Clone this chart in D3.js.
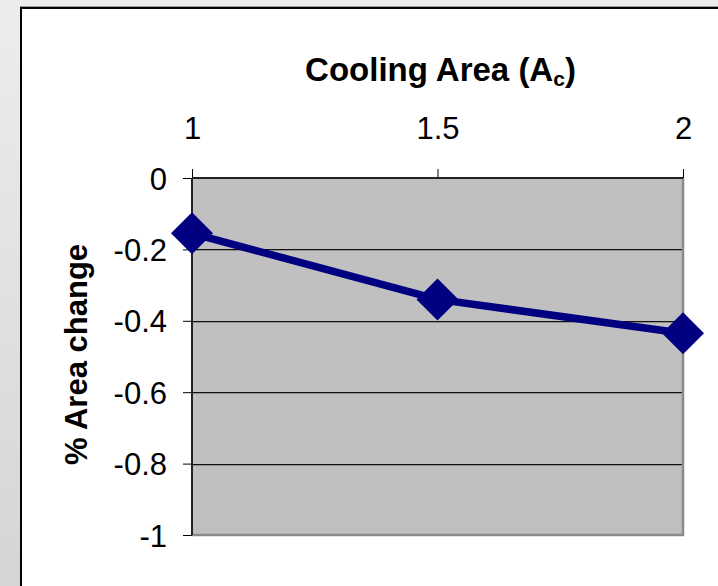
<!DOCTYPE html>
<html>
<head>
<meta charset="utf-8">
<title>Cooling Area</title>
<script src="https://d3js.org/d3.v7.min.js"></script>
<style>
body { margin: 0; background: #e4e4e4; }
text { font-family: "Liberation Sans", Arial, sans-serif; fill: #000; }
</style>
</head>
<body>
<div id="chart"></div>
<script>
// data
var coolingArea = [1, 1.5, 2];
var areaChange = [-0.155, -0.34, -0.435];
var xTickValues = [1, 1.5, 2];
var xTickLabels = ["1", "1.5", "2"];
var yTickValues = [0, -0.2, -0.4, -0.6, -0.8, -1];
var yTickLabels = ["0", "-0.2", "-0.4", "-0.6", "-0.8", "-1"];

var W = 718, H = 586;
var plot = {left: 192, right: 683, top: 178, bottom: 535};

var svg = d3.select("#chart").append("svg")
    .attr("width", W)
    .attr("height", H);

// page background (slide gradient)
var defs = svg.append("defs");
var grad = defs.append("linearGradient")
    .attr("id", "bg").attr("x1", 0).attr("y1", 0).attr("x2", 0).attr("y2", 1);
grad.append("stop").attr("offset", "0%").attr("stop-color", "#ededed");
grad.append("stop").attr("offset", "100%").attr("stop-color", "#d5d5d5");
svg.append("rect").attr("width", W).attr("height", H).attr("fill", "url(#bg)");

// chart box
svg.append("line").attr("x1", 20).attr("x2", W).attr("y1", 6.5).attr("y2", 6.5)
    .attr("stroke", "#9a9a9a").attr("stroke-width", 1);
svg.append("rect")
    .attr("x", 21).attr("y", 8)
    .attr("width", W).attr("height", H)
    .attr("fill", "#fff")
    .attr("stroke", "#000").attr("stroke-width", 2);

var x = d3.scaleLinear().domain([1, 2]).range([plot.left, plot.right]);
var y = d3.scaleLinear().domain([-1, 0]).range([plot.bottom, plot.top]);

// plot area
svg.append("rect")
    .attr("x", plot.left).attr("y", plot.top)
    .attr("width", plot.right - plot.left).attr("height", plot.bottom - plot.top)
    .attr("fill", "#c0c0c0");

// gridlines
var grid = yTickValues.filter(function(d) { return d !== 0 && d !== -1; });
svg.append("g").selectAll("line.sh")
    .data(grid).enter().append("line")
    .attr("x1", plot.left).attr("x2", plot.right)
    .attr("y1", function(d) { return Math.round(y(d)) + 1.5; })
    .attr("y2", function(d) { return Math.round(y(d)) + 1.5; })
    .attr("stroke", "#8f8f8f").attr("stroke-width", 1);
svg.append("g").selectAll("line.gr")
    .data(grid).enter().append("line")
    .attr("x1", plot.left).attr("x2", plot.right)
    .attr("y1", function(d) { return Math.round(y(d)) + 0.5; })
    .attr("y2", function(d) { return Math.round(y(d)) + 0.5; })
    .attr("stroke", "#111").attr("stroke-width", 1);

// right / bottom border of plot
svg.append("path")
    .attr("d", "M" + plot.right + "," + plot.top + "V" + plot.bottom + "H" + plot.left)
    .attr("fill", "none").attr("stroke", "#8a8a8a").attr("stroke-width", 2.5);

// axes
var xAxis = d3.axisTop(x)
    .tickValues(xTickValues)
    .tickSize(9)
    .tickPadding(30)
    .tickFormat(function(d, i) { return xTickLabels[i]; });
var gx = svg.append("g")
    .attr("transform", "translate(0," + plot.top + ")")
    .call(xAxis);

var yAxis = d3.axisLeft(y)
    .tickValues(yTickValues)
    .tickSize(9)
    .tickPadding(16)
    .tickFormat(function(d, i) { return yTickLabels[i]; });
var gy = svg.append("g")
    .attr("transform", "translate(" + plot.left + ",0)")
    .call(yAxis);

[gx, gy].forEach(function(g) {
  g.select(".domain").remove();
  g.selectAll(".tick line").attr("stroke", "#000").attr("stroke-width", 1);
  g.selectAll(".tick text")
    .attr("font-family", "'Liberation Sans', Arial, sans-serif")
    .attr("font-size", 31)
    .attr("fill", "#000");
});
gy.selectAll(".tick text").attr("dy", "0.36em");

svg.append("line")
    .attr("x1", plot.left).attr("x2", plot.left)
    .attr("y1", plot.top).attr("y2", plot.bottom)
    .attr("stroke", "#222").attr("stroke-width", 2);
svg.append("line")
    .attr("x1", plot.left).attr("x2", plot.right)
    .attr("y1", plot.top).attr("y2", plot.top)
    .attr("stroke", "#222").attr("stroke-width", 2);

// series
var pts = coolingArea.map(function(d, i) { return [d, areaChange[i]]; });
var line = d3.line()
    .x(function(d) { return x(d[0]); })
    .y(function(d) { return y(d[1]); });

svg.append("path")
    .datum(pts)
    .attr("d", line)
    .attr("fill", "none")
    .attr("stroke", "#000080")
    .attr("stroke-width", 7.5)
    .attr("stroke-linejoin", "round");

svg.append("g").selectAll("path.mk")
    .data(pts).enter().append("path")
    .attr("transform", function(d) { return "translate(" + x(d[0]) + "," + y(d[1]) + ")"; })
    .attr("d", "M0,-21L21,0L0,21L-21,0Z")
    .attr("fill", "#000080");

// titles
var titleText = svg.append("text")
    .attr("x", (plot.left + plot.right) / 2 + 3)
    .attr("y", 81)
    .attr("text-anchor", "middle")
    .attr("font-size", 33)
    .attr("font-weight", "bold");
titleText.append("tspan").text("Cooling Area (A");
titleText.append("tspan").attr("font-size", 21).attr("dy", 5).text("c");
titleText.append("tspan").attr("dy", -5).text(")");

svg.append("text")
    .attr("transform", "translate(87," + ((plot.top + plot.bottom) / 2 - 2) + ") rotate(-90)")
    .attr("text-anchor", "middle")
    .attr("font-size", 31)
    .attr("font-weight", "bold")
    .text("% Area change");
</script>
</body>
</html>
